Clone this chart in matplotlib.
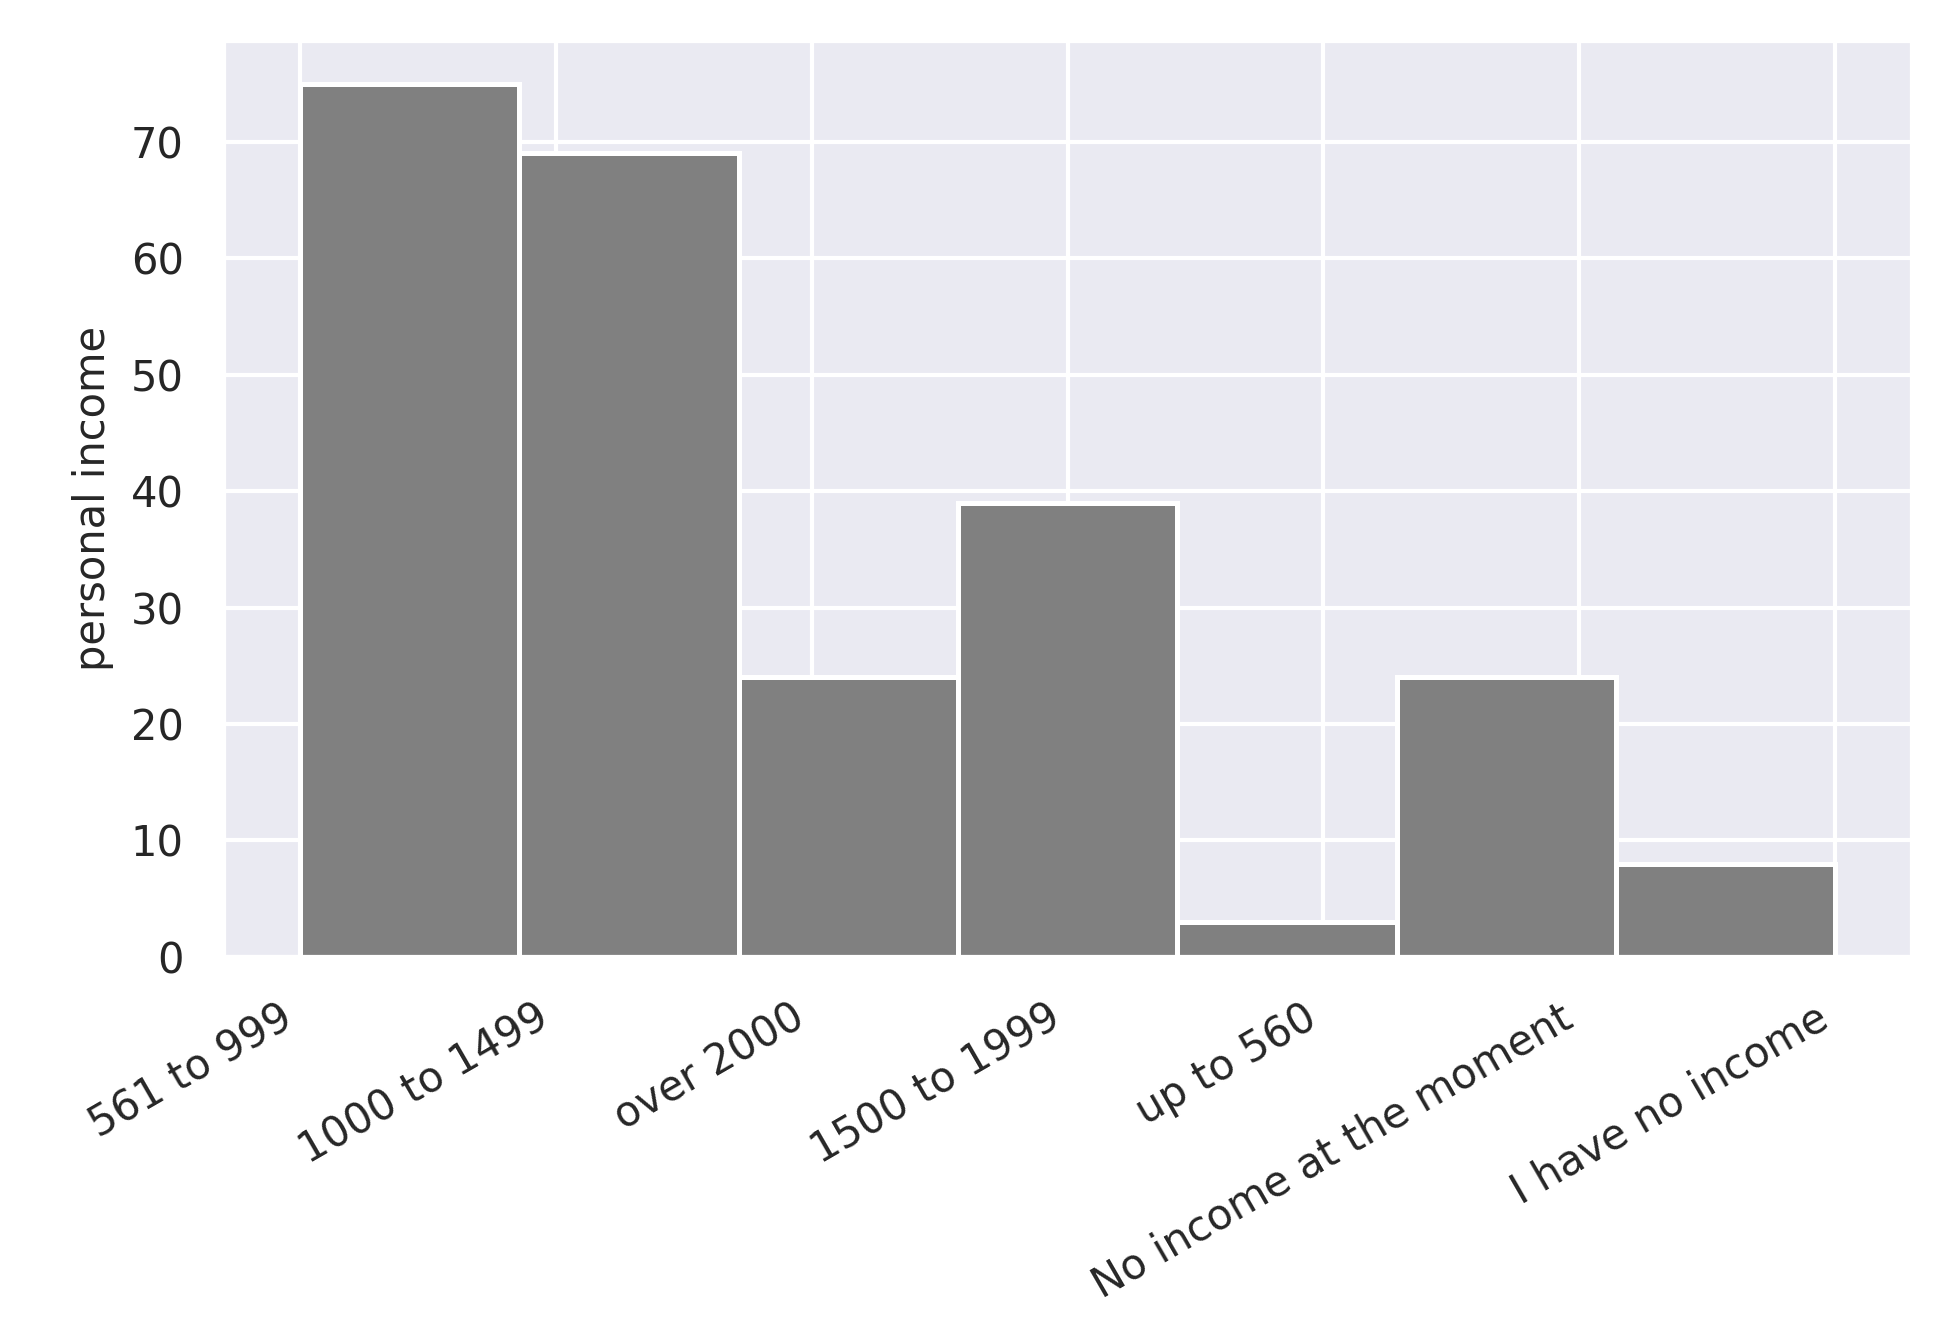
import matplotlib
matplotlib.use("Agg")
import matplotlib.pyplot as plt
import seaborn as sns
import numpy as np

# category labels in order of first appearance, and their counts
categories = ["561 to 999", "1000 to 1499", "over 2000", "1500 to 1999",
              "up to 560", "No income at the moment", "I have no income"]
counts = [75, 69, 24, 39, 3, 24, 8]

sns.set_theme(style="darkgrid")

fig, ax = plt.subplots(figsize=(6.47, 4.43), dpi=300)

codes = np.repeat(np.arange(len(categories)), counts)
ax.hist(codes, bins=len(categories), range=(0, len(categories) - 1),
        color="grey", edgecolor="white", linewidth=1.2)

ax.set_xticks(np.arange(len(categories)))
ax.set_xticklabels(categories, rotation=30, ha="right", fontsize=10)
ax.tick_params(axis="y", labelsize=10)
ax.set_ylabel("personal income", fontsize=10)
ax.set_xlim(-0.3, 6.3)

fig.subplots_adjust(left=0.115, right=0.985, top=0.97, bottom=0.28)
fig.savefig("out.png")
